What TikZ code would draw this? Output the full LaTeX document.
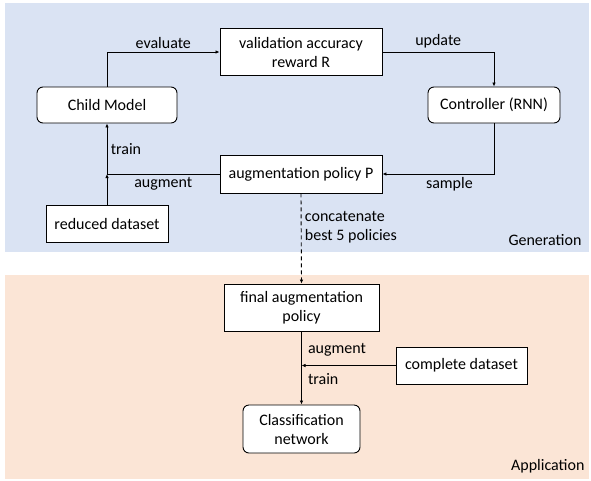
\documentclass[tikz,border=0pt]{standalone}
\usepackage{fontspec}
\setmainfont{Carlito}
\usepackage{tikz}
\usetikzlibrary{positioning, arrows.meta}
\usepackage{xcolor}
\definecolor{genblue}{HTML}{DAE3F3}
\definecolor{apppeach}{HTML}{FBE5D6}

\begin{document}
\begin{tikzpicture}[x=1pt, y=-1pt,
	lbl/.style={font=\fontsize{16}{19}\selectfont},
	box/.style={lbl, draw, fill=white, line width=0.9pt, align=center, inner sep=0pt},
	rbox/.style={box, rounded corners=6pt},
	arr/.style={-{Latex[length=4pt, width=3.5pt]}, line width=0.9pt}]
				\useasboundingbox (0,0) rectangle (591,480);
				\fill[genblue] (5,3) rectangle (589,252);
				\fill[apppeach] (5,275) rectangle (589,479);
				
				\node[rbox, minimum width=140, minimum height=36] (child) at (107,105) {Child Model};
				\node[box, minimum width=162, minimum height=47] (valid) at (301,52) {validation accuracy\\reward R};
				\node[rbox, minimum width=132, minimum height=36] (ctrl) at (494,105) {Controller (RNN)};
				\node[box, minimum width=162, minimum height=38] (policy) at (301,174) {augmentation policy P};
				\node[box, minimum width=122, minimum height=37] (reduced) at (107,223.5) {reduced dataset};
				\node[box, minimum width=155, minimum height=47] (final) at (301.5,307.5) {final augmentation\\policy};
				\node[rbox, minimum width=117, minimum height=48] (classif) at (301.5,429) {Classification\\network};
				\node[box, minimum width=131, minimum height=37] (complete) at (461.5,365.5) {complete dataset};
				
				\draw[arr] (child.north) |- (valid.west) node[pos=0.75, above, lbl] {evaluate};
				\draw[arr] (valid.east) -| (ctrl.north) node[pos=0.25, above, lbl] {update};
				\draw[arr] (ctrl.south) |- (policy.east) node[pos=0.7, below, lbl] {sample};
				
				\coordinate (join) at (child.south |- policy.west);
				\draw[line width=0.9pt] (policy.west) -- (join) node[midway, below, lbl] {augment};
				\draw[arr] (reduced.north) -- (join);
				\draw[arr] (join) -- (child.south) node[midway, right, lbl] {train};
				
				\draw[arr, dash pattern=on 4pt off 3pt] (policy.south) -- (final.north) node[pos=0.38, right, lbl, align=left] {concatenate\\best 5 policies};
				
				\coordinate (join2) at (final.south |- complete.west);
				\draw[arr] (final.south) -- (classif.north);
				\draw[arr] (complete.west) -- (join2);
				\node[lbl, above right=6pt and 3pt of join2] (aug2) {augment};
				\node[lbl, below right=4pt and 3pt of join2] (train2) {train};
				
				\node[lbl, anchor=east] (gen) at (585,240) {Generation};
				\node[lbl, anchor=east] (appl) at (588,466) {Application};
			\end{tikzpicture}
\end{document}
